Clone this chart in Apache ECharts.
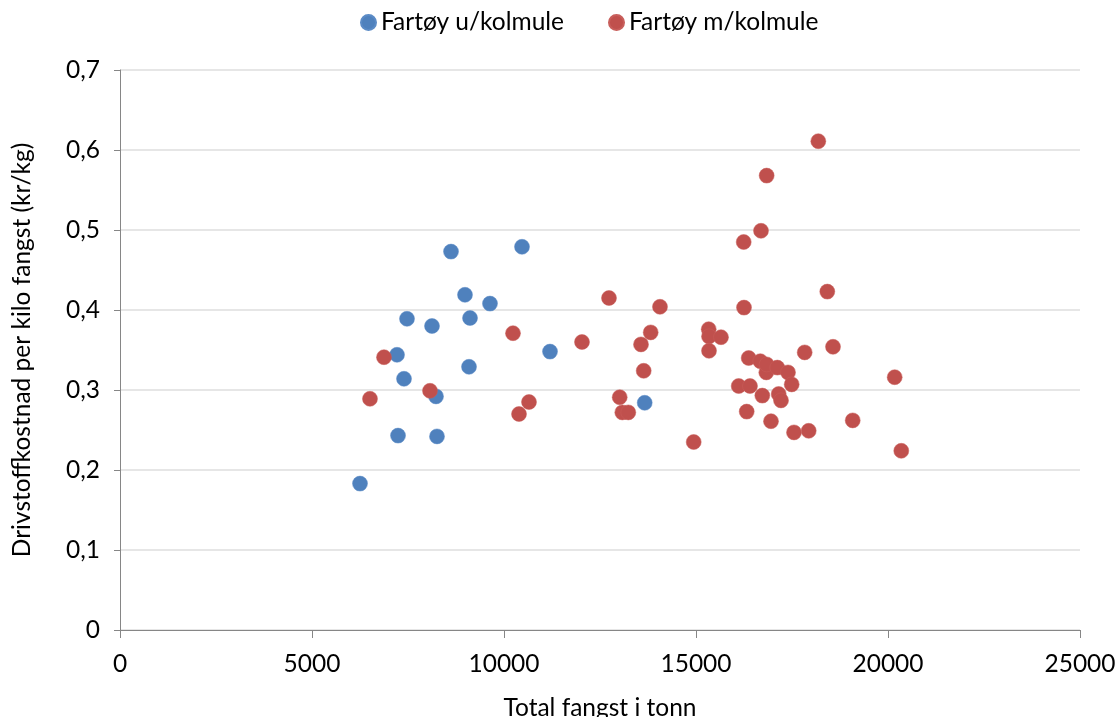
<!DOCTYPE html>
<html>
<head>
<meta charset="utf-8">
<script src="https://cdn.jsdelivr.net/npm/echarts@6/dist/echarts.min.js"></script>
<style>html,body{margin:0;padding:0;background:#fff;}#c{width:1115px;height:717px;}</style>
</head>
<body>
<div id="c"></div>
<script>
const seriesNames = ['Fartøy u/kolmule', 'Fartøy m/kolmule'];
const utenX = [6250, 7214, 7474, 7396, 7240, 8125, 8229, 8255, 8620, 8984, 9115, 9089, 9635, 10469, 11198, 13664];
const utenY = [0.183, 0.344, 0.389, 0.314, 0.243, 0.380, 0.292, 0.242, 0.473, 0.419, 0.390, 0.329, 0.408, 0.479, 0.348, 0.284];
const medX = [6510, 6875, 8073, 10234, 10391, 10651, 12031, 12734, 13013, 13081, 13237, 13568, 13638, 13820, 14062, 14940,
  15331, 15339, 15339, 15651, 16112, 16242, 16250, 16320, 16372, 16406, 16675, 16693, 16727, 16831, 16840, 16840,
  16953, 17117, 17153, 17214, 17396, 17492, 17552, 17830, 17935, 18185, 18419, 18568, 19081, 20174, 20346];
const medY = [0.289, 0.341, 0.299, 0.371, 0.270, 0.285, 0.360, 0.415, 0.291, 0.272, 0.272, 0.357, 0.324, 0.372, 0.404, 0.235,
  0.376, 0.367, 0.349, 0.366, 0.305, 0.485, 0.403, 0.273, 0.340, 0.305, 0.336, 0.499, 0.293, 0.322, 0.332, 0.568,
  0.261, 0.328, 0.295, 0.287, 0.322, 0.307, 0.247, 0.347, 0.249, 0.611, 0.423, 0.354, 0.262, 0.316, 0.224];
const xAxisTitle = 'Total fangst i tonn';
const yAxisTitle = 'Drivstoffkostnad per kilo fangst (kr/kg)';

const zip = (xs, ys) => xs.map((x, i) => [x, ys[i]]);
const font = 'Lato';
const fs = 24.5;
const chart = echarts.init(document.getElementById('c'));
chart.setOption({
  animation: false,
  textStyle: { fontFamily: font },
  legend: {
    top: 5, left: 355,
    itemWidth: 15, itemHeight: 15, itemGap: 44,
    textStyle: { fontSize: fs, color: '#000', fontFamily: font },
    data: seriesNames.map(n => ({ name: n, icon: 'circle' }))
  },
  grid: { left: 120, right: 35, top: 70, bottom: 87, containLabel: false, outerBoundsMode: 'none' },
  xAxis: {
    type: 'value', min: 0, max: 25000, interval: 5000,
    name: xAxisTitle, nameLocation: 'middle', nameGap: 66,
    nameTextStyle: { fontSize: fs, color: '#000', fontFamily: font },
    axisLine: { show: true, lineStyle: { color: '#868686', width: 1 } },
    axisTick: { show: true, length: 8, inside: false, lineStyle: { color: '#868686' } },
    axisLabel: { fontSize: fs, color: '#000', margin: 22, fontFamily: font,
      formatter: v => String(v) },
    splitLine: { show: false }
  },
  yAxis: {
    type: 'value', min: 0, max: 0.7, interval: 0.1,
    name: yAxisTitle, nameLocation: 'middle', nameGap: 85, nameRotate: 90,
    nameTextStyle: { fontSize: fs, color: '#000', fontFamily: font },
    axisLine: { show: true, lineStyle: { color: '#868686', width: 1 } },
    axisTick: { show: true, length: 6, lineStyle: { color: '#868686' } },
    axisLabel: { fontSize: fs, color: '#000', margin: 20, fontFamily: font,
      formatter: v => (Math.round(v * 10) / 10).toString().replace('.', ',') },
    splitLine: { show: true, lineStyle: { color: '#E6E6E6', width: 2 } }
  },
  series: [
    { name: seriesNames[0], type: 'scatter', symbol: 'circle', symbolSize: 15,
      itemStyle: { color: '#4F81BD', borderColor: '#5B8BC6', borderWidth: 0.5, opacity: 1 },
      data: zip(utenX, utenY) },
    { name: seriesNames[1], type: 'scatter', symbol: 'circle', symbolSize: 15,
      itemStyle: { color: '#C0504D', borderColor: '#C85E5B', borderWidth: 0.5, opacity: 1 },
      data: zip(medX, medY) }
  ]
});
</script>
</body>
</html>
